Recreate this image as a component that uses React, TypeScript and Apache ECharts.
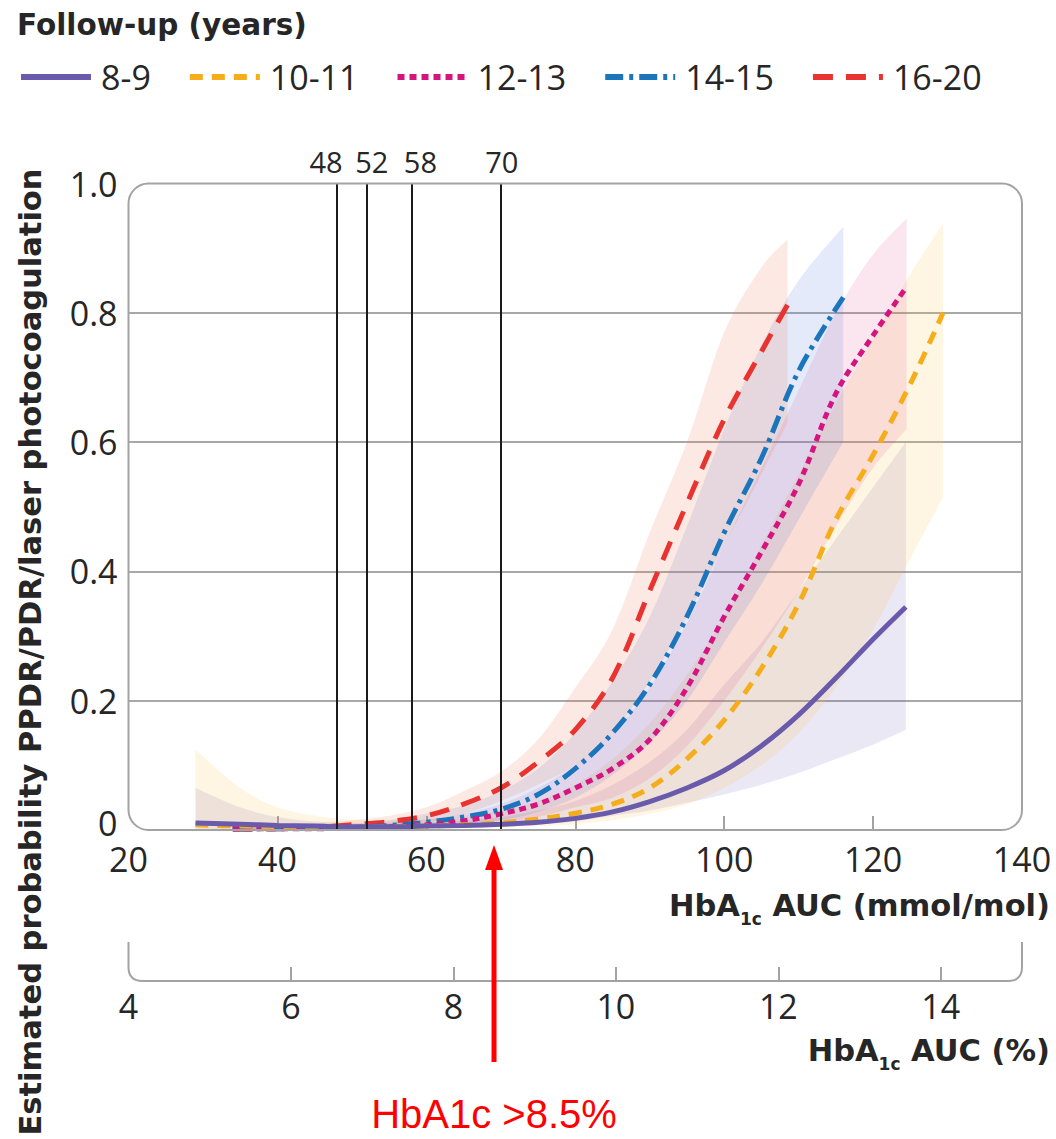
import React, { useEffect, useRef } from 'react';
import * as echarts from 'echarts';

// ---------- data ----------
const groupNames = ['8-9', '10-11', '12-13', '14-15', '16-20'];
const lineColors = ['#6a5aab', '#f5ad1c', '#d5147f', '#1b75bc', '#e83330'];
const bandColors = [
  'rgba(110,95,190,0.14)',
  'rgba(250,185,60,0.15)',
  'rgba(225,60,130,0.13)',
  'rgba(90,125,215,0.16)',
  'rgba(240,120,80,0.16)',
];

// 8-9 years
const x89 = [29, 35, 40, 45, 50, 55, 60, 65, 70, 75, 80, 85, 90, 95, 100, 105, 110, 115, 120, 124.4];
const mean89 = [0.011, 0.009, 0.007, 0.006, 0.005, 0.005, 0.006, 0.007, 0.009, 0.012, 0.018, 0.028, 0.044, 0.065, 0.092, 0.13, 0.178, 0.235, 0.295, 0.345];
const lo89 = [0.001, 0.001, 0.002, 0.002, 0.002, 0.002, 0.003, 0.004, 0.005, 0.008, 0.013, 0.022, 0.03, 0.042, 0.055, 0.07, 0.088, 0.11, 0.132, 0.155];
const hi89 = [0.065, 0.035, 0.02, 0.013, 0.01, 0.01, 0.011, 0.015, 0.02, 0.03, 0.045, 0.07, 0.105, 0.155, 0.225, 0.29, 0.37, 0.45, 0.53, 0.6];

// 10-11 years
const x1011 = [29, 35, 40, 45, 50, 55, 60, 65, 70, 75, 80, 85, 90, 95, 100, 105, 110, 115, 120, 125, 129.4];
const mean1011 = [0.008, 0.006, 0.005, 0.004, 0.004, 0.005, 0.006, 0.008, 0.011, 0.017, 0.026, 0.04, 0.065, 0.11, 0.17, 0.25, 0.35, 0.48, 0.58, 0.69, 0.8];
const lo1011 = [0.0005, 0.001, 0.001, 0.001, 0.001, 0.001, 0.002, 0.003, 0.004, 0.006, 0.009, 0.015, 0.025, 0.04, 0.065, 0.1, 0.15, 0.22, 0.31, 0.42, 0.515];
const hi1011 = [0.124, 0.065, 0.035, 0.022, 0.016, 0.015, 0.017, 0.022, 0.03, 0.045, 0.07, 0.11, 0.165, 0.24, 0.33, 0.44, 0.55, 0.66, 0.76, 0.86, 0.938];

// 12-13 years
const x1213 = [34, 40, 45, 50, 55, 60, 65, 70, 75, 80, 85, 90, 95, 100, 105, 110, 115, 120, 124.5];
const mean1213 = [0.002, 0.002, 0.002, 0.003, 0.005, 0.008, 0.014, 0.025, 0.04, 0.065, 0.095, 0.14, 0.22, 0.33, 0.43, 0.535, 0.675, 0.765, 0.84];
const lo1213 = [0, 0.001, 0.001, 0.001, 0.002, 0.003, 0.006, 0.012, 0.02, 0.035, 0.05, 0.08, 0.13, 0.2, 0.28, 0.37, 0.47, 0.56, 0.62];
const hi1213 = [0.01, 0.008, 0.008, 0.008, 0.011, 0.016, 0.025, 0.04, 0.065, 0.1, 0.15, 0.22, 0.32, 0.44, 0.56, 0.68, 0.8, 0.89, 0.946];

// 14-15 years
const x1415 = [34, 40, 45, 50, 55, 60, 65, 70, 75, 80, 85, 90, 95, 100, 105, 110, 116];
const mean1415 = [0.002, 0.002, 0.003, 0.004, 0.007, 0.012, 0.02, 0.032, 0.055, 0.095, 0.15, 0.225, 0.33, 0.46, 0.575, 0.71, 0.824];
const lo1415 = [0, 0.001, 0.001, 0.001, 0.002, 0.005, 0.009, 0.015, 0.028, 0.05, 0.085, 0.135, 0.2, 0.29, 0.38, 0.48, 0.6];
const hi1415 = [0.01, 0.008, 0.008, 0.01, 0.015, 0.025, 0.038, 0.06, 0.095, 0.15, 0.23, 0.33, 0.47, 0.62, 0.75, 0.85, 0.933];

// 16-20 years
const x1620 = [34, 40, 45, 50, 55, 60, 65, 70, 75, 80, 85, 90, 95, 100, 105, 108.5];
const mean1620 = [0.001, 0.002, 0.004, 0.008, 0.013, 0.022, 0.04, 0.065, 0.105, 0.155, 0.235, 0.37, 0.505, 0.635, 0.74, 0.812];
const lo1620 = [0, 0.001, 0.001, 0.003, 0.006, 0.012, 0.025, 0.045, 0.07, 0.1, 0.15, 0.23, 0.33, 0.44, 0.55, 0.63];
const hi1620 = [0.006, 0.006, 0.01, 0.015, 0.022, 0.035, 0.06, 0.09, 0.14, 0.22, 0.31, 0.46, 0.6, 0.77, 0.87, 0.913];

const refLines = [48, 52, 58, 70];
const refLabelShift = [-11, 5, 9, 1];
const mmolTickValues = [40, 60, 80, 100, 120];
const pctLabelValues = [4, 6, 8, 10, 12, 14];
const pctTickValues = [6, 8, 10, 12, 14];
const thresholdPct = 8.5;

const groups = [
  { x: x89, mean: mean89, lo: lo89, hi: hi89, dash: 'solid' as any },
  { x: x1011, mean: mean1011, lo: lo1011, hi: hi1011, dash: [13, 9] },
  { x: x1213, mean: mean1213, lo: lo1213, hi: hi1213, dash: [7, 5] },
  { x: x1415, mean: mean1415, lo: lo1415, hi: hi1415, dash: [18, 6, 4, 6] },
  { x: x1620, mean: mean1620, lo: lo1620, hi: hi1620, dash: [20, 13] },
];

// ---------- layout ----------
const G_LEFT = 128.5;
const G_TOP = 183.5;
const G_W = 893.5;
const G_H = 646.5;
const PCT_AXIS_Y = 981;

function smoothSeg(pts: number[][]): string {
  let d = '';
  for (let i = 0; i < pts.length - 1; i++) {
    const p0 = pts[Math.max(i - 1, 0)];
    const p1 = pts[i];
    const p2 = pts[i + 1];
    const p3 = pts[Math.min(i + 2, pts.length - 1)];
    const c1x = p1[0] + (p2[0] - p0[0]) / 6;
    const c1y = p1[1] + (p2[1] - p0[1]) / 6;
    const c2x = p2[0] - (p3[0] - p1[0]) / 6;
    const c2y = p2[1] - (p3[1] - p1[1]) / 6;
    d += ` C ${c1x} ${c1y} ${c2x} ${c2y} ${p2[0]} ${p2[1]}`;
  }
  return d;
}

const L = G_LEFT, R = G_LEFT + G_W, T = 942, B = PCT_AXIS_Y, rr = 14;
const bracketD = `M ${L} ${T} L ${L} ${B - rr} Q ${L} ${B} ${L + rr} ${B} L ${R - rr} ${B} Q ${R} ${B} ${R} ${B - rr} L ${R} ${T}`;
try {
  echarts.graphic.registerShape('pctBracket', (echarts.graphic as any).extendPath(bracketD, {}));
} catch (e) {}

const boldFont = 'DejaVu Sans';
const tickFont = 'Open Sans';
const textColor = '#262626';

export default function App() {
  const ref = useRef<HTMLDivElement>(null);
  useEffect(() => {
    if (!ref.current) return;
    const chart = echarts.init(ref.current, null, { renderer: 'svg' });

    const bandSeries = groups.map((g, gi) => ({
      type: 'custom',
      name: groupNames[gi] + ' CI',
      xAxisIndex: 0,
      yAxisIndex: 0,
      z: 1,
      clip: true,
      silent: true,
      encode: { x: 0, y: [1, 2] },
      data: g.x.map((x, i) => [x, g.lo[i], g.hi[i]]),
      renderItem: (params: any, api: any) => {
        if (params.dataIndex !== 0) return null;
        const up = g.x.map((x, i) => api.coord([x, g.hi[i]]));
        const dn = g.x.map((x, i) => api.coord([x, g.lo[i]])).reverse();
        const d = `M ${up[0][0]} ${up[0][1]}` + smoothSeg(up) + ` L ${dn[0][0]} ${dn[0][1]}` + smoothSeg(dn) + ' Z';
        return { type: 'path', shape: { pathData: d }, style: { fill: bandColors[gi], stroke: null } };
      },
    }));

    const lineOrder = [4, 3, 2, 1, 0];
    const lineSeries = lineOrder.map((gi) => ({
      type: 'line',
      name: groupNames[gi],
      xAxisIndex: 0,
      yAxisIndex: 0,
      z: 4,
      smooth: 0.35,
      symbol: 'none',
      showSymbol: false,
      lineStyle: { color: lineColors[gi], width: 5, type: groups[gi].dash, cap: 'butt' },
      itemStyle: { color: lineColors[gi] },
      data: groups[gi].x.map((x, i) => [x, groups[gi].mean[i]]),
    }));

    const refSeries = {
      type: 'line',
      name: 'ref',
      xAxisIndex: 0,
      yAxisIndex: 0,
      z: 3,
      data: [],
      markLine: {
        silent: true,
        symbol: ['none', 'none'],
        animation: false,
        lineStyle: { color: '#1a1a1a', width: 2, type: 'solid' },
        label: {
          show: true,
          position: 'end',
          formatter: (p: any) => String(p.value),
          fontSize: 29,
          fontFamily: tickFont,
          color: textColor,
          distance: 8,
        },
        data: refLines.map((v, i) => ({ xAxis: v, label: { offset: [refLabelShift[i], 0] } })),
      },
    };

    const option: any = {
      animation: false,
      backgroundColor: '#ffffff',
      legend: {
        data: groupNames,
        left: 18,
        top: 60,
        orient: 'horizontal',
        itemWidth: 70,
        itemHeight: 34,
        itemGap: 36,
        padding: 0,
        itemStyle: { opacity: 0 },
        lineStyle: { width: 6 },
        textStyle: { fontSize: 34, fontFamily: tickFont, color: textColor, padding: [0, 0, 0, 5] },
      },
      grid: [
        { left: G_LEFT, top: G_TOP, width: G_W, height: G_H, outerBoundsMode: 'none', containLabel: false },
        { left: G_LEFT, top: PCT_AXIS_Y - 1, width: G_W, height: 1, outerBoundsMode: 'none', containLabel: false },
      ],
      xAxis: [
        {
          type: 'value',
          gridIndex: 0,
          min: 20,
          max: 140,
          interval: 20,
          axisLine: { show: false },
          axisTick: { show: true, inside: true, length: 14, customValues: mmolTickValues, lineStyle: { color: '#a3a3a3', width: 2 } },
          axisLabel: { fontSize: 34, lineHeight: 30, fontFamily: tickFont, color: textColor, margin: 14 },
          splitLine: { show: false },
        },
        {
          type: 'value',
          gridIndex: 1,
          min: 4,
          max: 15,
          interval: 2,
          axisLine: { show: false },
          axisTick: { show: true, inside: true, length: 14, customValues: pctTickValues, lineStyle: { color: '#a3a3a3', width: 2 } },
          axisLabel: { fontSize: 34, fontFamily: tickFont, color: textColor, margin: 8, customValues: pctLabelValues },
          splitLine: { show: false },
        },
      ],
      yAxis: [
        {
          type: 'value',
          gridIndex: 0,
          min: 0,
          max: 1,
          interval: 0.2,
          axisLine: { show: false },
          axisTick: { show: false },
          axisLabel: {
            fontSize: 34,
            fontFamily: tickFont,
            color: textColor,
            margin: 11,
            formatter: (v: number) => (v === 0 ? '{z|0}' : v.toFixed(1)),
            rich: { z: { fontSize: 34, fontFamily: tickFont, color: textColor, lineHeight: 26, padding: [0, 0, 14, 0] } },
          },
          splitLine: {
            show: true,
            lineStyle: { color: ['rgba(0,0,0,0)', '#a8a8a8', '#a8a8a8', '#a8a8a8', '#a8a8a8', 'rgba(0,0,0,0)'], width: 2 },
          },
        },
        { type: 'value', gridIndex: 1, min: 0, max: 1, show: false },
      ],
      series: [...bandSeries, refSeries, ...lineSeries],
    };

    chart.setOption(option);

    const xp = chart.convertToPixel({ xAxisIndex: 1 } as any, thresholdPct) as unknown as number;

    const subRich = (txt: string) => ({
      text: `{b|HbA}{s|1c}{b|${txt}}`,
      rich: {
        b: { fontSize: 30.5, fontWeight: 'bold', fontFamily: boldFont, fill: textColor, lineHeight: 44, verticalAlign: 'middle' },
        s: { fontSize: 17, fontWeight: 'bold', fontFamily: boldFont, fill: textColor, lineHeight: 17, verticalAlign: 'bottom' },
      },
    });

    chart.setOption({
      graphic: [
        {
          type: 'text',
          left: 17,
          top: 10,
          style: { text: 'Follow-up (years)', fontSize: 29.5, fontWeight: 'bold', fontFamily: boldFont, fill: textColor },
        },
        {
          type: 'rect',
          z: 5,
          silent: true,
          shape: { x: G_LEFT, y: G_TOP, width: G_W, height: G_H, r: 20 },
          style: { fill: 'none', stroke: '#a3a3a3', lineWidth: 2 },
        },
        {
          type: 'pctBracket',
          z: 5,
          silent: true,
          x: 0,
          y: 0,
          style: { fill: 'none', stroke: '#a3a3a3', lineWidth: 2 },
        },
        {
          type: 'text',
          x: 30,
          y: 652,
          rotation: Math.PI / 2,
          style: {
            text: 'Estimated probability PPDR/PDR/laser photocoagulation',
            fontSize: 30.5,
            fontWeight: 'bold',
            fontFamily: boldFont,
            fill: textColor,
            align: 'center',
            verticalAlign: 'middle',
            textAlign: 'center',
            textVerticalAlign: 'middle',
          },
        },
        {
          type: 'text',
          x: 1050,
          y: 905,
          style: { ...subRich(' AUC (mmol/mol)'), align: 'right', verticalAlign: 'middle', textAlign: 'right', textVerticalAlign: 'middle' },
        },
        {
          type: 'text',
          x: 1050,
          y: 1050,
          style: { ...subRich(' AUC (%)'), align: 'right', verticalAlign: 'middle', textAlign: 'right', textVerticalAlign: 'middle' },
        },
        {
          type: 'line',
          z: 10,
          shape: { x1: xp, y1: 1062, x2: xp, y2: 866 },
          style: { stroke: '#ff0000', lineWidth: 5 },
        },
        {
          type: 'polygon',
          z: 10,
          shape: { points: [[xp, 845], [xp - 9, 870], [xp + 9, 870]] },
          style: { fill: '#ff0000' },
        },
        {
          type: 'text',
          x: xp,
          y: 1114,
          z: 10,
          style: {
            text: 'HbA1c >8.5%',
            fontSize: 40,
            lineHeight: 40,
            fontFamily: 'Liberation Sans',
            fill: '#ff0000',
            align: 'center',
            verticalAlign: 'middle',
            textAlign: 'center',
            textVerticalAlign: 'middle',
          },
        },
      ],
    });

    return () => chart.dispose();
  }, []);

  return <div ref={ref} style={{ position: 'fixed', left: 0, top: 0, width: 1056, height: 1139 }} />;
}
